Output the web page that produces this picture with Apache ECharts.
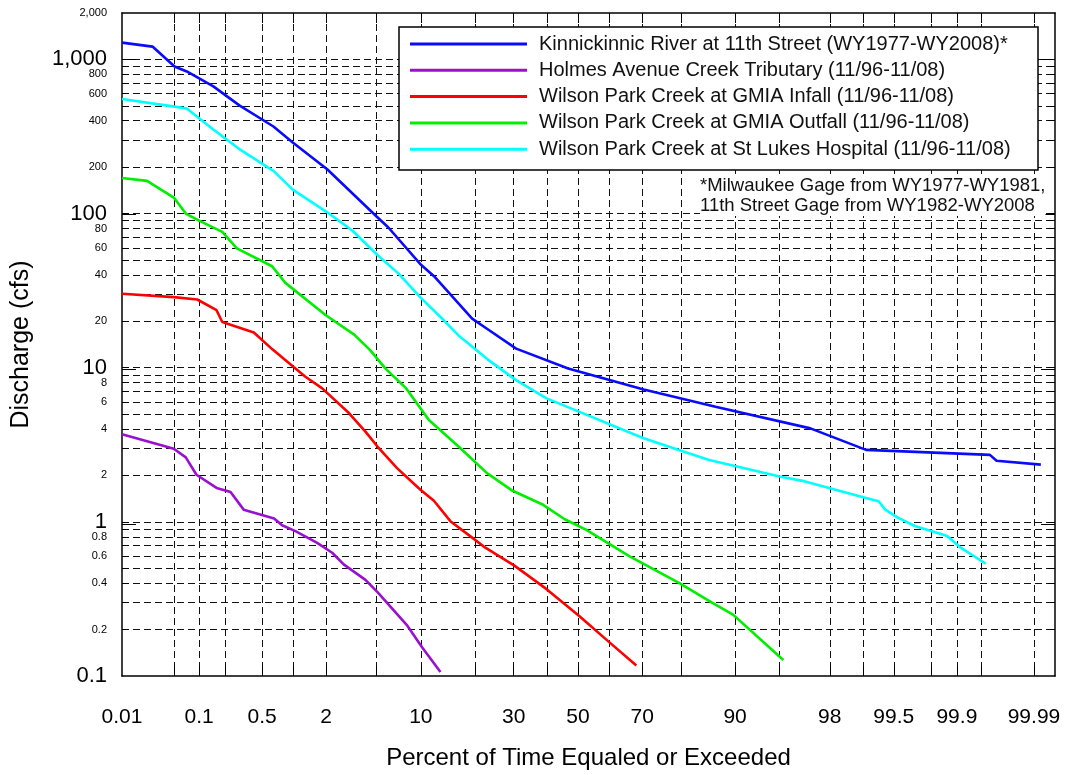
<!DOCTYPE html>
<html>
<head>
<meta charset="utf-8">
<script src="https://cdn.jsdelivr.net/npm/echarts@6/dist/echarts.min.js"></script>
<style>
html, body { margin: 0; padding: 0; background: #fff; }
#chart { width: 1069px; height: 775px; }
</style>
</head>
<body>
<div id="chart"></div>
<script>
// percent of time equaled or exceeded / discharge in cfs
var kkPct = [0.01, 0.026, 0.05, 0.071, 0.147, 0.29, 0.65, 1.0, 2.04, 5.0, 6.1, 9.9, 12.2, 19.4, 22.9, 30.7, 46.8, 70.4, 86.9, 97.1, 99.06, 99.961, 99.968, 99.992];
var kkQ   = [1285, 1211, 900, 835, 668, 501, 367, 289, 194, 96, 81.2, 47.1, 38.6, 20.8, 17.9, 13.3, 9.88, 7.23, 5.58, 4.04, 2.93, 2.72, 2.49, 2.35];

var hoPct = [0.01, 0.049, 0.069, 0.093, 0.16, 0.23, 0.32, 0.66, 0.79, 1.06, 1.67, 2.25, 2.8, 4.15, 5.1, 8.2, 10.2, 13.1];
var hoQ   = [3.70, 2.98, 2.62, 2.02, 1.66, 1.56, 1.20, 1.05, 0.95, 0.87, 0.73, 0.63, 0.53, 0.42, 0.35, 0.212, 0.153, 0.106];

var inPct = [0.01, 0.049, 0.095, 0.16, 0.186, 0.41, 0.63, 1.02, 1.31, 1.85, 3.1, 4.15, 5.1, 7.0, 9.9, 12.0, 14.9, 19.4, 22.5, 30.2, 39.9, 50.3, 59.6, 68.3];
var inQ   = [30.2, 28.7, 27.7, 23.6, 19.8, 16.9, 13.2, 10.1, 8.74, 7.34, 5.06, 3.85, 3.08, 2.23, 1.62, 1.37, 1.01, 0.79, 0.68, 0.52, 0.366, 0.246, 0.169, 0.117];

var ouPct = [0.01, 0.022, 0.049, 0.069, 0.1, 0.186, 0.27, 0.63, 0.85, 2.0, 3.4, 4.5, 5.8, 8.0, 11.2, 16.5, 22.9, 29.7, 38.8, 45.7, 52.6, 66.2, 79.6, 86.2, 89.7, 95.3];
var ouQ   = [170, 163, 127, 100, 90, 76, 59.5, 45.5, 35.5, 21.8, 16.4, 13.0, 9.9, 7.4, 4.58, 3.08, 2.07, 1.59, 1.29, 1.04, 0.89, 0.60, 0.40, 0.30, 0.25, 0.127];

var slPct = [0.01, 0.05, 0.071, 0.147, 0.29, 0.65, 1.0, 2.0, 3.3, 5.1, 7.2, 9.9, 13.7, 16.5, 23.3, 30.7, 39.9, 50.3, 70.4, 85.6, 95.0, 96.8, 99.06, 99.29, 99.39, 99.55, 99.70, 99.87, 99.91, 99.956];
var slQ   = [554, 494, 480, 351, 261, 189, 143, 103, 77.3, 53.8, 40.6, 28.7, 20.3, 16.2, 11.2, 8.3, 6.32, 5.19, 3.49, 2.53, 1.97, 1.83, 1.43, 1.36, 1.20, 1.06, 0.94, 0.81, 0.68, 0.535];

var seriesNames = [
  'Kinnickinnic River at 11th Street (WY1977-WY2008)*',
  'Holmes Avenue Creek Tributary (11/96-11/08)',
  'Wilson Park Creek at GMIA Infall (11/96-11/08)',
  'Wilson Park Creek at GMIA Outfall (11/96-11/08)',
  'Wilson Park Creek at St Lukes Hospital (11/96-11/08)'
];
var seriesColors = ['#0a0aff', '#9a10d0', '#ff0000', '#00ee00', '#00ffff'];

var xGridPct = [0.05, 0.1, 0.2, 0.5, 1, 2, 5, 10, 20, 30, 40, 50, 60, 70, 80, 90, 95, 98, 99, 99.5, 99.8, 99.9, 99.95, 99.99];
var xLabelPct = [0.01, 0.1, 0.5, 2, 10, 30, 50, 70, 90, 98, 99.5, 99.9, 99.99];
var yGridQ = [0.2, 0.3, 0.4, 0.5, 0.6, 0.7, 0.8, 0.9, 1, 2, 3, 4, 5, 6, 7, 8, 9, 10, 20, 30, 40, 50, 60, 70, 80, 90,
  100, 200, 300, 400, 500, 600, 700, 800, 900, 1000];
var yDecadeQ = [1, 10, 100, 1000];
var yLabelQ = [0.1, 0.2, 0.4, 0.6, 0.8, 1, 2, 4, 6, 8, 10, 20, 40, 60, 80, 100, 200, 400, 600, 800, 1000, 2000];

// normal quantile (Acklam), for the probability scale
function probit(p) {
  var a = [-3.969683028665376e+01, 2.209460984245205e+02, -2.759285104469687e+02, 1.383577518672690e+02, -3.066479806614716e+01, 2.506628277459239e+00];
  var b = [-5.447609879822406e+01, 1.615858368580409e+02, -1.556989798598866e+02, 6.680131188771972e+01, -1.328068155288572e+01];
  var c = [-7.784894002430293e-03, -3.223964580411365e-01, -2.400758277161838e+00, -2.549732539343734e+00, 4.374664141464968e+00, 2.938163982698783e+00];
  var d = [7.784695709041462e-03, 3.224671290700398e-01, 2.445134137142996e+00, 3.754408661907416e+00];
  var q, r;
  if (p < 0.02425) {
    q = Math.sqrt(-2 * Math.log(p));
    return (((((c[0]*q+c[1])*q+c[2])*q+c[3])*q+c[4])*q+c[5]) / ((((d[0]*q+d[1])*q+d[2])*q+d[3])*q+1);
  }
  if (p > 1 - 0.02425) {
    q = Math.sqrt(-2 * Math.log(1 - p));
    return -(((((c[0]*q+c[1])*q+c[2])*q+c[3])*q+c[4])*q+c[5]) / ((((d[0]*q+d[1])*q+d[2])*q+d[3])*q+1);
  }
  q = p - 0.5; r = q * q;
  return (((((a[0]*r+a[1])*r+a[2])*r+a[3])*r+a[4])*r+a[5])*q / (((((b[0]*r+b[1])*r+b[2])*r+b[3])*r+b[4])*r+1);
}
function px(pct) { return probit(pct / 100); }
function lg(q) { return Math.log10(q); }

var xMin = px(0.01), xMax = px(99.995);
var yMin = -1, yMax = lg(2000);
var FONT = 'Liberation Sans';

function xLabel(v) {
  for (var i = 0; i < xLabelPct.length; i++) {
    if (Math.abs(px(xLabelPct[i]) - v) < 1e-6) return String(xLabelPct[i]);
  }
  return '';
}
function yLabel(v) {
  var q = Math.pow(10, v);
  q = parseFloat(q.toPrecision(3));
  var isDecade = Math.abs(v - Math.round(v)) < 1e-9;
  var s = q >= 1000 ? q.toLocaleString('en-US') : (q < 1 ? q.toFixed(1) : String(q));
  return isDecade ? '{big|' + s + '}' : '{small|' + s + '}';
}

var gridLine = { show: true, lineStyle: { color: '#111', width: 1, type: [7, 4] } };
var border = { show: true, onZero: false, lineStyle: { color: '#000', width: 1.5 } };
var noLine = { show: false, onZero: false };

var chart = echarts.init(document.getElementById('chart'));

var series = [
  [kkPct, kkQ], [hoPct, hoQ], [inPct, inQ], [ouPct, ouQ], [slPct, slQ]
].map(function (s, i) {
  return {
    name: seriesNames[i],
    type: 'line',
    xAxisIndex: 0,
    yAxisIndex: 0,
    symbol: 'none',
    z: 3,
    color: seriesColors[i],
    lineStyle: { width: 2.6, color: seriesColors[i] },
    data: s[0].map(function (p, j) { return [px(p), lg(s[1][j])]; })
  };
});

var plotRect = { left: 122, right: 14, top: 13, bottom: 96 };

chart.setOption({
  animation: false,
  backgroundColor: '#fff',
  textStyle: { fontFamily: FONT },
  grid: [
    Object.assign({ containLabel: false }, plotRect),
    Object.assign({ containLabel: false }, plotRect)
  ],
  xAxis: [
    {
      type: 'value', gridIndex: 0, position: 'bottom', min: xMin, max: xMax,
      axisLine: border,
      axisTick: { show: true, inside: true, length: 10, lineStyle: { color: '#000', width: 1 }, customValues: xGridPct.map(px) },
      axisLabel: { show: true, margin: 31, fontSize: 21, color: '#000', fontFamily: FONT,
        customValues: xLabelPct.map(px), formatter: xLabel },
      splitLine: gridLine,
      name: 'Percent of Time Equaled or Exceeded',
      nameLocation: 'middle', nameGap: 70,
      nameTextStyle: { fontSize: 24, color: '#000', fontFamily: FONT }
    },
    {
      type: 'value', gridIndex: 0, position: 'top', min: xMin, max: xMax,
      axisLine: border,
      axisTick: { show: true, inside: true, length: 10, lineStyle: { color: '#000', width: 1 }, customValues: xGridPct.map(px) },
      axisLabel: { show: false },
      splitLine: { show: false }
    },
    {
      type: 'value', gridIndex: 1, position: 'bottom', min: xMin, max: xMax,
      axisLine: noLine, axisTick: { show: false }, axisLabel: { show: false }, splitLine: { show: false }
    }
  ],
  yAxis: [
    {
      type: 'value', gridIndex: 0, position: 'left', min: yMin, max: yMax,
      axisLine: border,
      axisTick: { show: true, inside: true, length: 7, lineStyle: { color: '#000', width: 1 }, customValues: yGridQ.map(lg) },
      axisLabel: { show: true, margin: 15, color: '#000', fontFamily: FONT,
        customValues: yLabelQ.map(lg), formatter: yLabel,
        rich: { big: { fontSize: 22, fontFamily: FONT, color: '#000' }, small: { fontSize: 11, fontFamily: FONT, color: '#000' } } },
      splitLine: gridLine,
      name: 'Discharge (cfs)',
      nameLocation: 'middle', nameGap: 88,
      nameTextStyle: { fontSize: 25, color: '#000', fontFamily: FONT }
    },
    {
      type: 'value', gridIndex: 0, position: 'right', min: yMin, max: yMax,
      axisLine: border,
      axisTick: { show: true, inside: true, length: 7, lineStyle: { color: '#000', width: 1 }, customValues: yGridQ.map(lg) },
      axisLabel: { show: false },
      splitLine: { show: false }
    },
    {
      type: 'value', gridIndex: 1, position: 'left', min: yMin, max: yMax,
      axisLine: noLine,
      axisTick: { show: true, inside: true, length: 14, lineStyle: { color: '#000', width: 1 }, customValues: yDecadeQ.map(lg) },
      axisLabel: { show: false },
      splitLine: { show: false }
    },
    {
      type: 'value', gridIndex: 1, position: 'right', min: yMin, max: yMax,
      axisLine: noLine,
      axisTick: { show: true, inside: true, length: 14, lineStyle: { color: '#000', width: 1 }, customValues: yDecadeQ.map(lg) },
      axisLabel: { show: false },
      splitLine: { show: false }
    }
  ],
  legend: {
    orient: 'vertical',
    left: 410,
    top: 34,
    padding: 0,
    icon: 'rect',
    itemWidth: 117,
    itemHeight: 3,
    itemGap: 6.3,
    z: 6,
    textStyle: { fontSize: 20, lineHeight: 20, color: '#111', fontFamily: FONT, padding: [0, 0, 0, 7] },
    data: seriesNames
  },
  graphic: [
    {
      type: 'rect', z: 5,
      shape: { x: 399, y: 27, width: 639, height: 143 },
      style: { fill: '#fff', stroke: '#000', lineWidth: 1.5 }
    },
    {
      type: 'text', z: 5, left: 700, top: 176,
      style: {
        text: '*Milwaukee Gage from WY1977-WY1981,\n11th Street Gage from WY1982-WY2008',
        font: '18.5px "Liberation Sans"', fill: '#111', lineHeight: 20,
        backgroundColor: '#fff'
      }
    }
  ],
  series: series
});
</script>
</body>
</html>
